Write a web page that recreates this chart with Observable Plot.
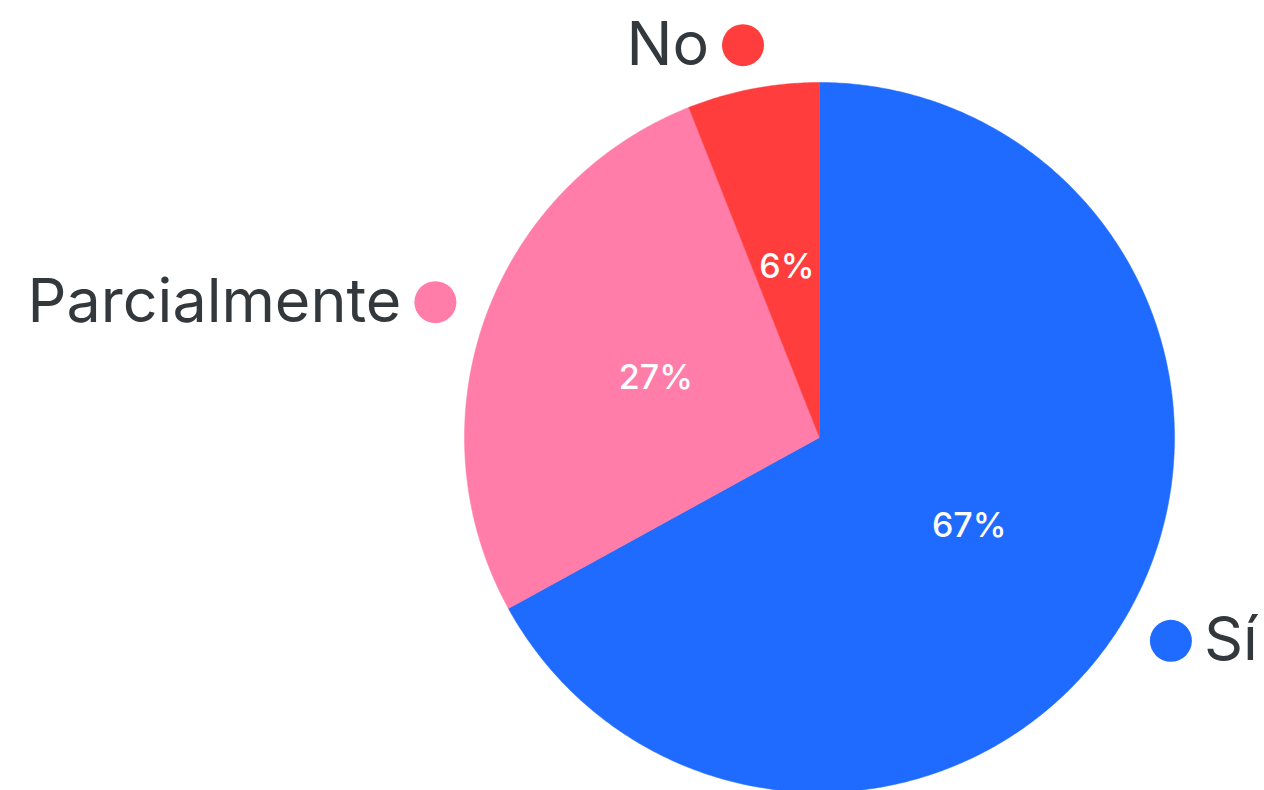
<!DOCTYPE html>
<html>
<head>
<meta charset="utf-8">
<script src="https://cdn.jsdelivr.net/npm/d3@7"></script>
<script src="https://cdn.jsdelivr.net/npm/@observablehq/plot@0.6"></script>
<style>
  html, body { margin: 0; padding: 0; background: #ffffff; }
  #chart svg { display: block; }
</style>
</head>
<body>
<div id="chart"></div>
<script>
// Data
const categories = ["Sí", "Parcialmente", "No"];
const values = [67, 27, 6];
const labels = ["67%", "27%", "6%"];
const colors = ["#1f6bff", "#ff7da8", "#ff3d3d"];

// Build slices (unit circle, clockwise from 12 o'clock)
const total = d3.sum(values);
const slicePts = [];
const centers = [];
let acc = 0;
values.forEach((v, i) => {
  const a0 = acc / total * 2 * Math.PI;
  acc += v;
  const a1 = acc / total * 2 * Math.PI;
  const n = Math.max(4, Math.ceil((a1 - a0) / (Math.PI / 360)));
  slicePts.push({key: categories[i], x: 0, y: 0, c: colors[i]});
  for (let k = 0; k <= n; k++) {
    const a = a0 + (a1 - a0) * k / n;
    slicePts.push({key: categories[i], x: Math.sin(a), y: Math.cos(a), c: colors[i]});
  }
  slicePts.push({key: categories[i], x: 0, y: 0, c: colors[i]});
  const am = (a0 + a1) / 2;
  centers.push({
    key: categories[i], label: labels[i], c: colors[i],
    ix: 0.49 * Math.sin(am), iy: 0.49 * Math.cos(am),
    ox: 1.15 * Math.sin(am), oy: 1.125 * Math.cos(am),
    side: Math.sin(am) >= 0 ? "right" : "left"
  });
});

const W = 1264, H = 790, R = 355, cx = 819, cy = 437;
const chart = Plot.plot({
  width: W,
  height: H,
  margin: 0,
  x: {domain: [-cx / R, (W - cx) / R], axis: null},
  y: {domain: [-(H - cy) / R, cy / R], axis: null},
  style: {background: "#ffffff", fontFamily: "Inter, 'Open Sans', sans-serif"},
  marks: [
    Plot.line(slicePts, {x: "x", y: "y", z: "key", fill: "c", stroke: "c", strokeWidth: 0.5, curve: "linear"}),
    Plot.text(centers, {x: "ix", y: "iy", text: "label", fill: "#ffffff", fontSize: 34, fontWeight: 500, letterSpacing: 0.5}),
    Plot.dot(centers, {x: "ox", y: "oy", r: 21, fill: "c", stroke: null}),
    Plot.text(centers.filter(d => d.side === "left"), {x: "ox", y: "oy", text: "key", textAnchor: "end", dx: -34, fill: "#33383d", fontSize: 61, fontWeight: 400, letterSpacing: 0.8}),
    Plot.text(centers.filter(d => d.side === "right"), {x: "ox", y: "oy", text: "key", textAnchor: "start", dx: 33, fill: "#33383d", fontSize: 61, fontWeight: 400, letterSpacing: 0.8})
  ]
});
document.getElementById("chart").appendChild(chart);
</script>
</body>
</html>
